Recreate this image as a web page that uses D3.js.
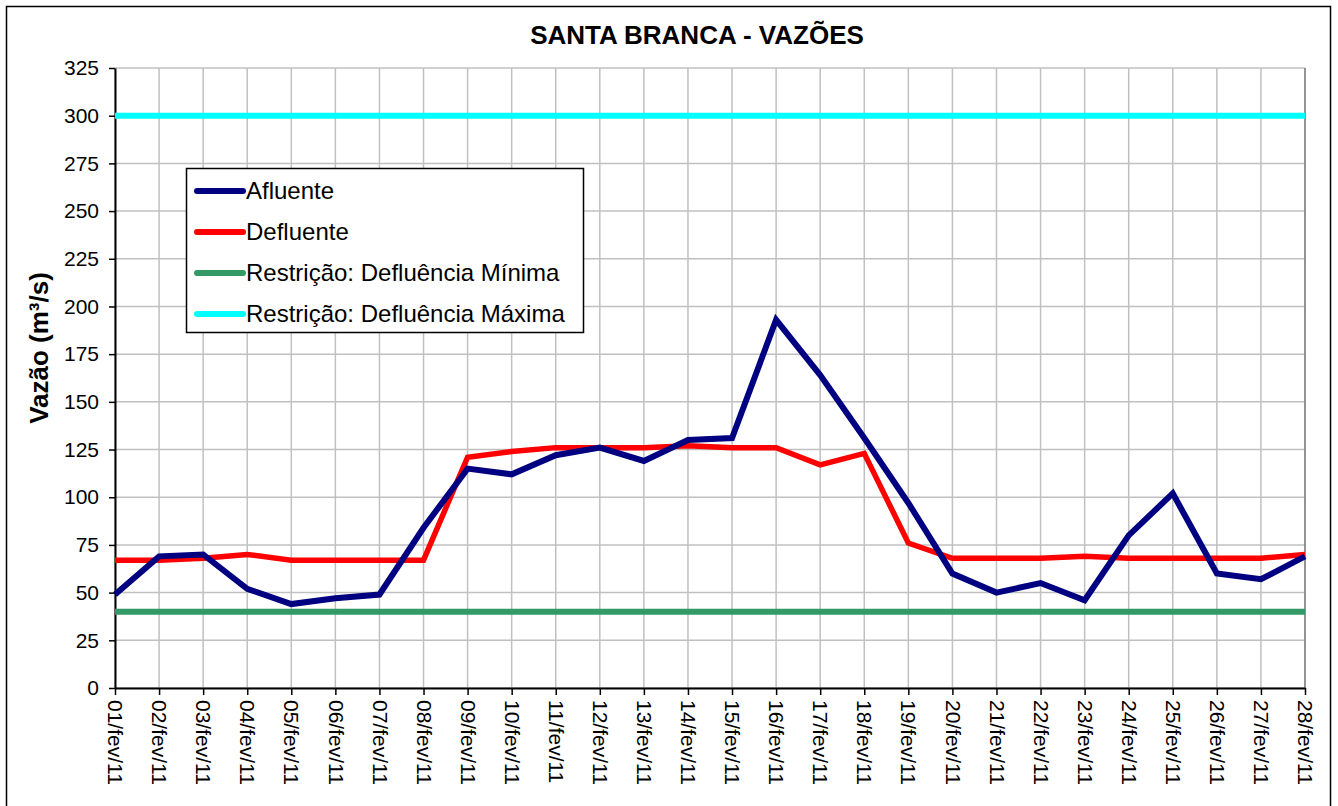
<!DOCTYPE html>
<html>
<head>
<meta charset="utf-8">
<script src="https://cdn.jsdelivr.net/npm/d3@7"></script>
<style>
  body { margin: 0; background: #fff; }
  text { font-family: "Liberation Sans", Arial, sans-serif; }
</style>
</head>
<body>
<script>
// days of Feb/2011
const DAYS = ["01/fev/11","02/fev/11","03/fev/11","04/fev/11","05/fev/11","06/fev/11","07/fev/11",
  "08/fev/11","09/fev/11","10/fev/11","11/fev/11","12/fev/11","13/fev/11","14/fev/11",
  "15/fev/11","16/fev/11","17/fev/11","18/fev/11","19/fev/11","20/fev/11","21/fev/11",
  "22/fev/11","23/fev/11","24/fev/11","25/fev/11","26/fev/11","27/fev/11","28/fev/11"];

const AFLUENTE = [49,69,70,52,44,47,49,84,115,112,122,126,119,130,131,193,164,131,97,60,50,55,46,80,102,60,57,69];
const DEFLUENTE = [67,67,68,70,67,67,67,67,121,124,126,126,126,127,126,126,117,123,76,68,68,68,69,68,68,68,68,70];
const DEF_MIN = 40;
const DEF_MAX = 300;

const Y_TICKS = [0,25,50,75,100,125,150,175,200,225,250,275,300,325];

const SERIES = [
  { name: "Afluente", color: "#000080", values: AFLUENTE, width: 6 },
  { name: "Defluente", color: "#ff0000", values: DEFLUENTE, width: 5.5 },
  { name: "Restrição: Defluência Mínima", color: "#339966", values: DAYS.map(() => DEF_MIN), width: 6 },
  { name: "Restrição: Defluência Máxima", color: "#00ffff", values: DAYS.map(() => DEF_MAX), width: 6 }
];

const width = 1338;
const height = 806;
const plotLeft = 115, plotRight = 1305, plotTop = 68, plotBottom = 688;

const x = d3.scalePoint().domain(DAYS).range([plotLeft, plotRight]);
const y = d3.scaleLinear().domain([0, 325]).range([plotBottom, plotTop]);

const svg = d3.select("body").append("svg")
  .attr("width", width)
  .attr("height", height);

// outer frame
svg.append("rect")
  .attr("x", 6.5).attr("y", 6.5)
  .attr("width", 1324).attr("height", 820)
  .attr("fill", "none").attr("stroke", "#000").attr("stroke-width", 1.5);

// title
svg.append("text")
  .attr("x", 697).attr("y", 44)
  .attr("text-anchor", "middle")
  .style("font-size", "26px").style("font-weight", "bold")
  .text("SANTA BRANCA - VAZÕES");

// gridlines
svg.append("g").selectAll("line")
  .data(Y_TICKS).enter().append("line")
  .attr("x1", plotLeft).attr("x2", plotRight)
  .attr("y1", d => y(d)).attr("y2", d => y(d))
  .attr("stroke", "#c0c0c0").attr("stroke-width", 1.5);

svg.append("g").selectAll("line")
  .data(DAYS).enter().append("line")
  .attr("x1", d => x(d)).attr("x2", d => x(d))
  .attr("y1", plotTop).attr("y2", plotBottom)
  .attr("stroke", "#c0c0c0").attr("stroke-width", 1.5);

// right border of plot area
svg.append("line")
  .attr("x1", plotRight).attr("x2", plotRight).attr("y1", plotTop).attr("y2", plotBottom)
  .attr("stroke", "#808080").attr("stroke-width", 1.5);

// y axis
const yAxis = svg.append("g")
  .attr("transform", `translate(${plotLeft},0)`)
  .call(d3.axisLeft(y).tickValues(Y_TICKS).tickSize(6).tickPadding(10).tickSizeOuter(0));
yAxis.select(".domain").attr("stroke", "#000").attr("stroke-width", 2);
yAxis.selectAll(".tick line").attr("stroke", "#000").attr("stroke-width", 1.5);
yAxis.selectAll("text").style("font-size", "21px").attr("fill", "#000");

// x axis
const xAxis = svg.append("g")
  .attr("transform", `translate(0,${plotBottom})`)
  .call(d3.axisBottom(x).tickSize(7).tickSizeOuter(0));
xAxis.select(".domain").attr("stroke", "#000").attr("stroke-width", 2);
xAxis.selectAll(".tick line").attr("stroke", "#000").attr("stroke-width", 1.5);
xAxis.selectAll("text")
  .style("font-size", "21px").attr("fill", "#000")
  .attr("text-anchor", "start")
  .attr("transform", "rotate(90)")
  .attr("x", 12).attr("y", 0).attr("dy", "0.35em");

// y label
svg.append("text")
  .attr("transform", "translate(48,348) rotate(-90)")
  .attr("text-anchor", "middle")
  .style("font-size", "26px").style("font-weight", "bold")
  .text("Vazão (m³/s)");

// lines
const line = d3.line()
  .x((d, i) => x(DAYS[i]))
  .y(d => y(d));

svg.append("g").selectAll("path")
  .data(SERIES.slice().reverse()).enter().append("path")
  .attr("d", d => line(d.values))
  .attr("fill", "none")
  .attr("stroke", d => d.color)
  .attr("stroke-width", d => d.width)
  .attr("stroke-linejoin", "miter");

// legend
const legend = svg.append("g");
legend.append("rect")
  .attr("x", 186.5).attr("y", 168.5).attr("width", 397).attr("height", 164)
  .attr("fill", "#fff").attr("stroke", "#000").attr("stroke-width", 1.5);

const items = legend.selectAll("g.item")
  .data(SERIES).enter().append("g")
  .attr("class", "item")
  .attr("transform", (d, i) => `translate(0,${191 + i * 41})`);
items.append("line")
  .attr("x1", 197).attr("x2", 243)
  .attr("stroke", d => d.color).attr("stroke-width", 6)
  .attr("stroke-linecap", "round");
items.append("text")
  .attr("x", 246).attr("dy", "0.35em")
  .style("font-size", "24px")
  .text(d => d.name);
</script>
</body>
</html>
